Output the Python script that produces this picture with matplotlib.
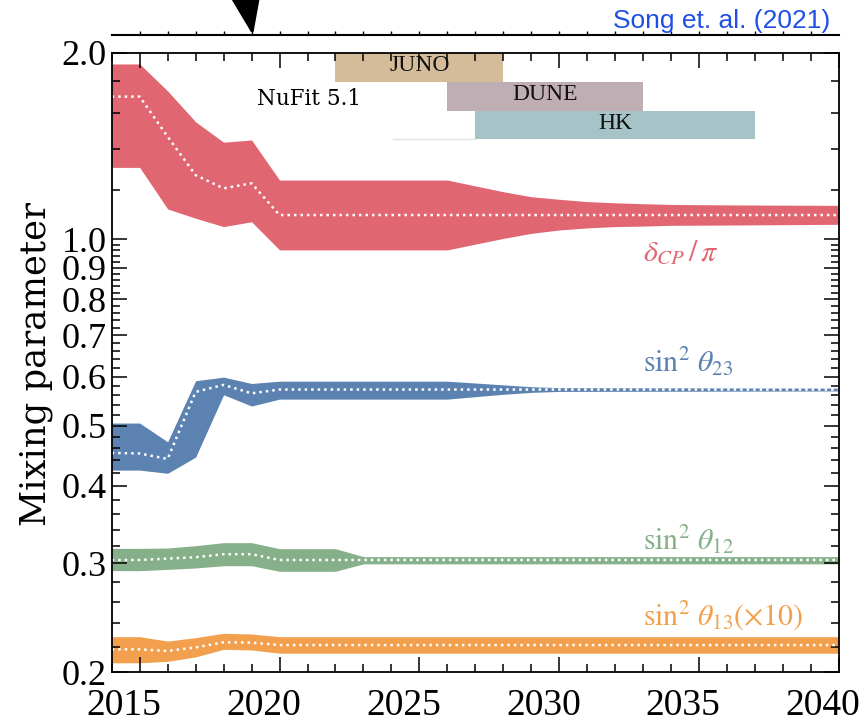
import numpy as np
import matplotlib
matplotlib.use("Agg")
import matplotlib.pyplot as plt
from matplotlib.ticker import FixedLocator, NullFormatter, FixedFormatter
from matplotlib.transforms import ScaledTranslation

# ---------------- data ----------------
cp_years = [2014, 2015, 2016, 2017, 2018, 2019, 2020, 2026, 2027, 2028, 2029,
            2030, 2031, 2032, 2033, 2034, 2036, 2040]
cp_hi = [1.918, 1.918, 1.735, 1.547, 1.434, 1.446, 1.246, 1.246, 1.219, 1.193,
         1.171, 1.160, 1.150, 1.145, 1.141, 1.138, 1.136, 1.134]
cp_lo = [1.306, 1.306, 1.119, 1.081, 1.048, 1.067, 0.961, 0.961, 0.982, 1.003,
         1.022, 1.035, 1.043, 1.048, 1.050, 1.053, 1.054, 1.057]
cp_mid = [1.699, 1.699, 1.464, 1.269, 1.208, 1.231, 1.094, 1.094, 1.094, 1.094,
          1.094, 1.094, 1.094, 1.094, 1.094, 1.094, 1.094, 1.094]

t23_years = [2014, 2015, 2016, 2017, 2018, 2019, 2020, 2026, 2027, 2028, 2029, 2030, 2040]
t23_hi = [0.505, 0.505, 0.471, 0.591, 0.599, 0.585, 0.590, 0.590, 0.586, 0.582, 0.578, 0.576, 0.575]
t23_lo = [0.424, 0.424, 0.419, 0.445, 0.561, 0.538, 0.552, 0.552, 0.557, 0.562, 0.566, 0.568, 0.569]
t23_mid = [0.452, 0.451, 0.442, 0.567, 0.582, 0.564, 0.572, 0.572, 0.572, 0.572, 0.572, 0.572, 0.572]

t12_years = [2014, 2015, 2016, 2017, 2018, 2019, 2020, 2022, 2023, 2040]
t12_hi = [0.3170, 0.3170, 0.3174, 0.3202, 0.3238, 0.3238, 0.3166, 0.3166, 0.3074, 0.3074]
t12_lo = [0.2918, 0.2918, 0.2932, 0.2947, 0.2972, 0.2972, 0.2911, 0.2911, 0.2993, 0.2993]
t12_mid = [0.3036, 0.3036, 0.3052, 0.3067, 0.3102, 0.3102, 0.3036, 0.3036, 0.3036, 0.3036]

t13_years = [2014, 2015, 2016, 2017, 2018, 2019, 2020, 2040]
t13_hi = [0.2283, 0.2283, 0.2246, 0.2275, 0.2312, 0.2306, 0.2283, 0.2283]
t13_lo = [0.2072, 0.2072, 0.2083, 0.2118, 0.2178, 0.2173, 0.2147, 0.2147]
t13_mid = [0.2178, 0.2178, 0.2165, 0.2194, 0.2236, 0.2233, 0.2213, 0.2213]

exp_names = ["JUNO", "DUNE", "HK"]
exp_start = [2022, 2026, 2027]
exp_end = [2028, 2033, 2037]

series_labels = [r"$\delta_{CP}\,/\,\pi$", r"$\sin^2\,\theta_{23}$",
                 r"$\sin^2\,\theta_{12}$", r"$\sin^2\,\theta_{13}(\times10)$"]
series_label_y = [0.953, 0.634, 0.3268, 0.2465]

y_major = [0.2, 0.3, 0.4, 0.5, 0.6, 0.7, 0.8, 0.9, 1.0, 2.0]
x_major = [2015, 2020, 2025, 2030, 2035, 2040]

# ---------------- styling ----------------
c_red = "#e06672"
c_blue = "#5b82b0"
c_green = "#85b08a"
c_orange = "#f2a04e"
exp_colors = ["#d4bb9a", "#c0aeb5", "#a6c4c7"]

plt.rcParams["mathtext.fontset"] = "stix"
W, H = 867, 725
fig = plt.figure(figsize=(W / 100, H / 100), dpi=100)

L, R, T, B = 111.7, 839.0, 52.7, 672.3
ax = fig.add_axes([L / W, 1 - B / H, (R - L) / W, (B - T) / H])
ax.set_yscale("log")
ax.set_xlim(2014, 2040)
ax.set_ylim(0.2, 2.0)

dot = dict(color="white", lw=1.8, linestyle=(0, (1, 1.6)), dash_capstyle="butt")
for yrs, lo, hi, mid, col in [(cp_years, cp_lo, cp_hi, cp_mid, c_red),
                              (t23_years, t23_lo, t23_hi, t23_mid, c_blue),
                              (t12_years, t12_lo, t12_hi, t12_mid, c_green),
                              (t13_years, t13_lo, t13_hi, t13_mid, c_orange)]:
    ax.fill_between(yrs, lo, hi, color=col, lw=0, zorder=1)
    ax.plot(yrs, mid, zorder=2, **dot)

# experiment timelines
rows = [(0.9532, 1.0), (0.9059, 0.9532), (0.8602, 0.9059)]
for name, s, e, col, (y0, y1) in zip(exp_names, exp_start, exp_end, exp_colors, rows):
    ax.axvspan(s, e, ymin=y0, ymax=y1, color=col, lw=0, zorder=0.5)
    ax.text((s + e) / 2, (y0 + y1) / 2 + 0.003, name, transform=ax.get_xaxis_transform(),
            ha="center", va="center", fontsize=17, family="Liberation Serif", color="#111111")
ax.plot([2024.06, 2027], [0.8602, 0.8602], transform=ax.get_xaxis_transform(),
        color="#e4e4e4", lw=1, zorder=0.4)

ax.text(2021.06, 1.684, "NuFit 5.1", ha="center", va="center", fontsize=15.5,
        family="DejaVu Serif", color="black")

for lab, yv, col in zip(series_labels, series_label_y, [c_red, c_blue, c_green, c_orange]):
    ax.text(2033.0, yv, lab, ha="left", va="center", fontsize=21.5, color=col)

# ticks
ax.yaxis.set_major_locator(FixedLocator(y_major))
ax.yaxis.set_major_formatter(FixedFormatter(["%.1f" % v for v in y_major]))
ymin_ticks = [v for v in np.round(np.arange(0.2, 1.0, 0.02), 2) if not np.isclose(v, y_major).any()]
ymin_ticks += [1.2, 1.4, 1.6, 1.8]
ax.yaxis.set_minor_locator(FixedLocator(ymin_ticks))
ax.yaxis.set_minor_formatter(NullFormatter())
ax.xaxis.set_major_locator(FixedLocator(x_major))
ax.xaxis.set_minor_locator(FixedLocator([y for y in range(2014, 2041) if y not in x_major]))

ax.tick_params(which="both", direction="in", top=True, right=True, width=1.1, color="black")
ax.tick_params(which="major", length=11)
ax.tick_params(which="minor", length=5.5)
ax.tick_params(axis="y", which="major", pad=3.4)
ax.tick_params(axis="x", which="major", pad=12)
for sp in ax.spines.values():
    sp.set_linewidth(1.3)

for lab in ax.get_yticklabels():
    lab.set_fontfamily("Liberation Serif")
    lab.set_fontsize(26)
off = ScaledTranslation(-16 / 100, 0, fig.dpi_scale_trans)
for lab in ax.get_xticklabels():
    lab.set_fontfamily("Liberation Serif")
    lab.set_fontsize(27)
    lab.set_transform(lab.get_transform() + off)

ax.set_ylabel("Mixing parameter", family="DejaVu Serif", fontsize=25.5, va="center")
ax.yaxis.set_label_coords((36 - L) / (R - L), (B - 364) / (B - T))

# upper panel edge (only its bottom spine is visible)
ax2 = fig.add_axes([L / W, 1 - 35.3 / H, (R - L) / W, 0.3])
ax2.set_xlim(2014, 2040)
ax2.patch.set_visible(False)
for k in ["top", "left", "right"]:
    ax2.spines[k].set_visible(False)
ax2.spines["bottom"].set_linewidth(1.5)
ax2.set_yticks([])
ax2.set_xticks(list(range(2015, 2040)))
ax2.tick_params(axis="x", direction="in", length=3, width=1.0, labelbottom=False)
ax2.annotate("", xy=(2019.05, 0), xycoords=ax2.get_xaxis_transform(),
             xytext=(-10, 55), textcoords="offset pixels", annotation_clip=False,
             arrowprops=dict(arrowstyle="-|>,head_length=1.6,head_width=0.6",
                             mutation_scale=15, lw=2.5, color="black",
                             shrinkA=0, shrinkB=0))

fig.text(830 / W, 1 - 21 / H, "Song et. al. (2021)", ha="right", va="center",
         fontsize=19, family="Liberation Sans", color="#1e50e6")

fig.savefig("out.png", dpi=100)
